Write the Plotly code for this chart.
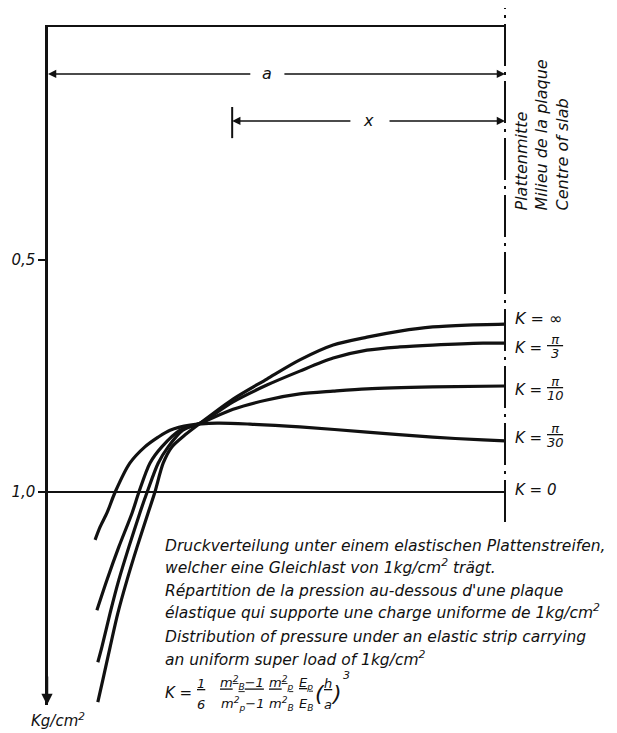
import plotly.graph_objects as go

# ---------------- data ----------------
# abscissa: distance from slab edge as a fraction of a (0 = edge, 1 = centre of slab)
# ordinate: contact pressure in kg/cm² (axis points downward)
k_names = ["∞", "π/3", "π/10", "π/30", "0"]

x_k_inf = [0.109, 0.120, 0.136, 0.153, 0.173, 0.195, 0.219, 0.234, 0.252, 0.271, 0.300,
           0.333, 0.405, 0.479, 0.551, 0.624, 0.698, 0.770, 0.842, 0.917, 1.000]
p_k_inf = [1.452, 1.404, 1.333, 1.260, 1.189, 1.118, 1.045, 1.000, 0.938, 0.903, 0.877,
           0.852, 0.800, 0.757, 0.716, 0.684, 0.667, 0.654, 0.645, 0.641, 0.639]

x_k_pi3 = [0.109, 0.118, 0.136, 0.155, 0.177, 0.201, 0.217, 0.241, 0.263, 0.295, 0.333,
           0.405, 0.479, 0.551, 0.624, 0.698, 0.770, 0.842, 0.952, 1.000]
p_k_pi3 = [1.366, 1.333, 1.260, 1.189, 1.118, 1.045, 1.000, 0.938, 0.903, 0.867, 0.852,
           0.806, 0.770, 0.740, 0.712, 0.695, 0.688, 0.684, 0.680, 0.680]

x_k_pi10 = [0.107, 0.129, 0.155, 0.184, 0.199, 0.223, 0.249, 0.289, 0.333, 0.405, 0.479,
            0.551, 0.624, 0.698, 0.842, 1.000]
p_k_pi10 = [1.254, 1.189, 1.118, 1.045, 1.000, 0.938, 0.903, 0.867, 0.852, 0.822, 0.802,
            0.789, 0.783, 0.778, 0.774, 0.772]

x_k_pi30 = [0.103, 0.114, 0.129, 0.147, 0.179, 0.212, 0.241, 0.267, 0.311, 0.370, 0.442,
            0.551, 0.698, 0.842, 0.952, 1.000]
p_k_pi30 = [1.103, 1.075, 1.045, 1.000, 0.938, 0.903, 0.882, 0.867, 0.856, 0.852, 0.854,
            0.860, 0.871, 0.882, 0.888, 0.890]

x_k_0 = [0.0, 1.0]
p_k_0 = [1.0, 1.0]

ytick_vals = [0.5, 1.0]
ytick_text = ["0,5", "1,0"]

series_x = [x_k_inf, x_k_pi3, x_k_pi10, x_k_pi30, x_k_0]
series_p = [p_k_inf, p_k_pi3, p_k_pi10, p_k_pi30, p_k_0]

# ---------------- layout constants ----------------
W, H = 617, 733
ML, MR, MT, MB = 48, 112, 27, 28
PW, PH = W - ML - MR, H - MT - MB
Y_MAX = 1.458
FONT = "DejaVu Sans"
INK = "#111111"
label_yshift = [6, -5, -4, 3, 2]  # px offsets of right-hand K labels from curve ends


def paper_x(px):
    return (px - ML) / PW


def paper_y(py):
    return (H - MB - py) / PH


def txt(size=15):
    return dict(family=FONT, size=size, color=INK, style="italic")


def ptext(px, py, text, size=15, xanchor="center", yanchor="middle", **kw):
    d = dict(x=paper_x(px), y=paper_y(py), xref="paper", yref="paper", xanchor=xanchor,
             yanchor=yanchor, text=text, showarrow=False, font=txt(size))
    d.update(kw)
    return d


fig = go.Figure()
for i, (xs, ps) in enumerate(zip(series_x, series_p)):
    fig.add_trace(go.Scatter(
        x=xs, y=ps, mode="lines", name="K = " + k_names[i],
        line=dict(color=INK, width=2 if k_names[i] == "0" else 3.2,
                  shape="linear" if k_names[i] == "0" else "spline", smoothing=0.8),
        hoverinfo="skip"))

ann = []

# K labels to the right of the centre line
for i, (name, ps) in enumerate(zip(k_names, series_p)):
    yv = ps[-1]
    ys = label_yshift[i]
    if "/" in name:
        num, den = name.split("/")
        ann.append(dict(x=1, y=yv, xref="x", yref="y", xshift=8, yshift=ys, xanchor="left",
                        yanchor="middle", text="K =", showarrow=False, font=txt(15)))
        ann.append(dict(x=1, y=yv, xref="x", yref="y", xshift=50, yshift=ys + 9,
                        xanchor="center", yanchor="middle",
                        text="<u>\u00a0" + num + "\u00a0</u>", showarrow=False, font=txt(13)))
        ann.append(dict(x=1, y=yv, xref="x", yref="y", xshift=50, yshift=ys - 5,
                        xanchor="center", yanchor="middle",
                        text=den, showarrow=False, font=txt(13)))
    else:
        ann.append(dict(x=1, y=yv, xref="x", yref="y", xshift=8, yshift=ys, xanchor="left",
                        yanchor="middle", text="K = " + name, showarrow=False,
                        font=txt(15 if name == "0" else 16)))

# vertical centre label
ann.append(dict(x=1, y=paper_y(213), xref="x", yref="paper", xshift=37, xanchor="center",
                yanchor="bottom", textangle=-90, align="left",
                text="Plattenmitte<br>Milieu de la plaque<br>Centre of slab",
                showarrow=False, font=txt(16)))

# dimension "a"
ya = 0.101
ann.append(dict(x=0, y=ya, ax=0.446, ay=ya, xref="x", yref="y", axref="x", ayref="y",
                text="", showarrow=True, arrowhead=2, arrowsize=1.1, arrowwidth=1.5,
                arrowcolor=INK, standoff=0))
ann.append(dict(x=1, y=ya, ax=0.514, ay=ya, xref="x", yref="y", axref="x", ayref="y",
                text="", showarrow=True, arrowhead=2, arrowsize=1.1, arrowwidth=1.5,
                arrowcolor=INK, standoff=0))
ann.append(dict(x=0.479, y=ya, xref="x", yref="y", text="a", showarrow=False, font=txt(16)))

# dimension "x"
yx = 0.202
x_start = 0.403
ann.append(dict(x=x_start, y=yx, ax=0.665, ay=yx, xref="x", yref="y", axref="x", ayref="y",
                text="", showarrow=True, arrowhead=2, arrowsize=1.1, arrowwidth=1.5,
                arrowcolor=INK, standoff=0))
ann.append(dict(x=1, y=yx, ax=0.744, ay=yx, xref="x", yref="y", axref="x", ayref="y",
                text="", showarrow=True, arrowhead=2, arrowsize=1.1, arrowwidth=1.5,
                arrowcolor=INK, standoff=0))
ann.append(dict(x=0.702, y=yx, xref="x", yref="y", text="x", showarrow=False, font=txt(16)))

# arrow at bottom of pressure axis
ann.append(dict(x=0, y=0, xref="paper", yref="paper", ax=0, ay=-30, text="", showarrow=True,
                arrowhead=2, arrowsize=0.9, arrowwidth=2.5, arrowcolor=INK, standoff=0,
                xshift=-1))
ann.append(ptext(58, 720, "Kg/cm<sup>2</sup>", 15))

# caption
caption = [
    ("Druckverteilung unter einem elastischen Plattenstreifen,", 546),
    ("welcher eine Gleichlast von 1kg/cm<sup>2</sup> trägt.", 566),
    ("Répartition de la pression au-dessous d'une plaque", 591),
    ("élastique qui supporte une charge uniforme de 1kg/cm<sup>2</sup>", 611),
    ("Distribution of pressure under an elastic strip carrying", 637),
    ("an uniform super load of 1kg/cm<sup>2</sup>", 658),
]
for t, py in caption:
    ann.append(ptext(163, py, t, 15.5, xanchor="left"))

# formula K = 1/6 (mB²-1)/(mp²-1) mp²/mB² Ep/EB (h/a)³
NUM_Y, DEN_Y = 683, 704
ann.append(ptext(163, 693, "K =", 15, xanchor="left"))
fractions = [
    (201, "1", "6"),
    (242, "m<sup>2</sup><sub>B</sub>−1", "m<sup>2</sup><sub>p</sub>−1"),
    (281, "m<sup>2</sup><sub>p</sub>", "m<sup>2</sup><sub>B</sub>"),
    (306, "E<sub>p</sub>", "E<sub>B</sub>"),
    (328, "h", "a"),
]
for px, num, den in fractions:
    ann.append(ptext(px, NUM_Y, "<u>" + num + "</u>", 13))
    ann.append(ptext(px, DEN_Y, den, 13))
ann.append(ptext(320, 693, "(", 22))
ann.append(ptext(336, 693, ")", 22))
ann.append(ptext(346, 675, "3", 11))

shapes = [
    # centre-of-slab dash-dot line
    dict(type="line", xref="paper", yref="paper", x0=1, x1=1, y0=paper_y(522), y1=paper_y(8),
         line=dict(color=INK, width=2, dash="42px,6px,3px,6px")),
    # start bar of dimension x
    dict(type="line", xref="x", yref="y", x0=x_start, x1=x_start, y0=0.172, y1=0.239,
         line=dict(color=INK, width=2)),
]

fig.update_layout(
    width=W, height=H, margin=dict(l=ML, r=MR, t=MT, b=MB),
    paper_bgcolor="white", plot_bgcolor="white", showlegend=False,
    annotations=ann, shapes=shapes,
    xaxis=dict(range=[0, 1], side="top", showline=True, linecolor=INK, linewidth=2,
               showgrid=False, zeroline=False, ticks="", showticklabels=False),
    yaxis=dict(range=[Y_MAX, 0], showline=True, linecolor=INK, linewidth=2.5,
               showgrid=False, zeroline=False, ticks="outside", ticklen=7, tickwidth=2,
               tickcolor=INK, tickvals=ytick_vals, ticktext=ytick_text,
               tickfont=txt(15)),
)

fig.write_html("out.html", config={"displayModeBar": False},
               post_script="document.body.style.margin='0px';")
